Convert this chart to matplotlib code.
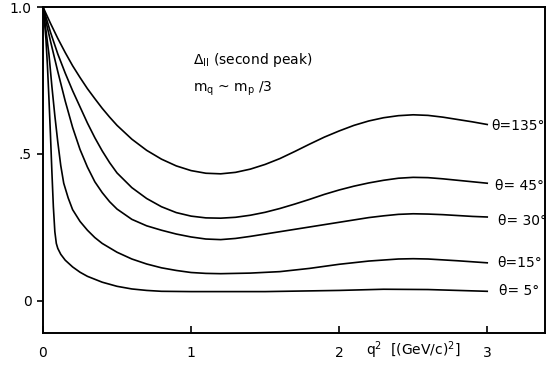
import matplotlib
matplotlib.use("Agg")
import matplotlib.pyplot as plt

# q^2 in (GeV/c)^2 and the ratio, read per scattering angle
q2_135 = [0, 0.05, 0.1, 0.15, 0.2, 0.25, 0.3, 0.35, 0.4, 0.45, 0.5, 0.6, 0.7, 0.8, 0.9, 1.0,
          1.1, 1.2, 1.3, 1.4, 1.5, 1.6, 1.7, 1.8, 1.9, 2.0, 2.1, 2.2, 2.3, 2.4, 2.5, 2.6,
          2.7, 2.8, 2.9, 3.0]
r_135 = [1.0, 0.945, 0.893, 0.845, 0.80, 0.76, 0.722, 0.688, 0.655, 0.625, 0.597, 0.55, 0.512,
         0.482, 0.459, 0.443, 0.434, 0.432, 0.437, 0.448, 0.464, 0.484, 0.508, 0.533, 0.557,
         0.578, 0.597, 0.612, 0.623, 0.630, 0.633, 0.631, 0.625, 0.617, 0.609, 0.60]

q2_45 = [0, 0.05, 0.1, 0.15, 0.2, 0.25, 0.3, 0.35, 0.4, 0.45, 0.5, 0.6, 0.7, 0.8, 0.9, 1.0,
         1.1, 1.2, 1.3, 1.4, 1.5, 1.6, 1.7, 1.8, 1.9, 2.0, 2.1, 2.2, 2.3, 2.4, 2.5, 2.6,
         2.7, 2.8, 2.9, 3.0]
r_45 = [1.0, 0.915, 0.84, 0.775, 0.715, 0.66, 0.605, 0.555, 0.51, 0.47, 0.435, 0.385, 0.348,
        0.32, 0.30, 0.288, 0.282, 0.281, 0.284, 0.291, 0.301, 0.314, 0.329, 0.345, 0.362,
        0.377, 0.39, 0.401, 0.41, 0.417, 0.42, 0.419, 0.415, 0.41, 0.405, 0.40]

q2_30 = [0, 0.025, 0.05, 0.1, 0.15, 0.2, 0.25, 0.3, 0.35, 0.4, 0.45, 0.5, 0.6, 0.7, 0.8, 0.9,
         1.0, 1.1, 1.2, 1.3, 1.4, 1.5, 1.6, 1.7, 1.8, 1.9, 2.0, 2.1, 2.2, 2.3, 2.4, 2.5,
         2.6, 2.7, 2.8, 2.9, 3.0]
r_30 = [1.0, 0.94, 0.885, 0.78, 0.68, 0.59, 0.515, 0.455, 0.405, 0.368, 0.337, 0.312, 0.277,
        0.255, 0.24, 0.227, 0.217, 0.21, 0.208, 0.212, 0.219, 0.227, 0.235, 0.243, 0.251,
        0.259, 0.267, 0.275, 0.283, 0.289, 0.294, 0.296, 0.295, 0.293, 0.29, 0.287, 0.285]

q2_15 = [0, 0.02, 0.04, 0.06, 0.08, 0.1, 0.12, 0.14, 0.17, 0.2, 0.25, 0.3, 0.35, 0.4, 0.5,
         0.6, 0.7, 0.8, 0.9, 1.0, 1.1, 1.2, 1.4, 1.6, 1.8, 2.0, 2.2, 2.4, 2.5, 2.6, 2.8, 3.0]
r_15 = [1.0, 0.92, 0.84, 0.73, 0.63, 0.54, 0.46, 0.40, 0.35, 0.31, 0.27, 0.24, 0.215, 0.195,
        0.165, 0.142, 0.125, 0.112, 0.103, 0.096, 0.093, 0.092, 0.094, 0.099, 0.11, 0.124,
        0.135, 0.142, 0.143, 0.142, 0.136, 0.129]

q2_5 = [0, 0.01, 0.02, 0.03, 0.04, 0.05, 0.06, 0.07, 0.08, 0.09, 0.1, 0.12, 0.15, 0.2, 0.25,
        0.3, 0.4, 0.5, 0.6, 0.7, 0.8, 1.0, 1.5, 2.0, 2.3, 2.6, 3.0]
r_5 = [1.0, 0.95, 0.89, 0.80, 0.69, 0.57, 0.44, 0.32, 0.235, 0.195, 0.178, 0.158, 0.138,
       0.115, 0.097, 0.083, 0.063, 0.049, 0.04, 0.035, 0.032, 0.031, 0.031, 0.035, 0.039,
       0.038, 0.032]

curves = [
    (q2_135, r_135, "θ=135°", 3.03, 0.595),
    (q2_45, r_45, "θ= 45°", 3.05, 0.39),
    (q2_30, r_30, "θ= 30°", 3.07, 0.27),
    (q2_15, r_15, "θ=15°", 3.07, 0.13),
    (q2_5, r_5, "θ= 5°", 3.08, 0.034),
]

fig = plt.figure(figsize=(5.47, 3.71), dpi=100)
ax = fig.add_axes([0.0786, 0.1024, 0.9177, 0.8787])

for x, y, lab, lx, ly in curves:
    ax.plot(x, y, color="black", linewidth=1.2)
    ax.text(lx, ly, lab, fontsize=10, va="center", ha="left")

ax.set_xlim(0, 3.39)
ax.set_ylim(-0.11, 1.0)

ax.set_xticks([0, 1, 2, 3])
ax.set_xticklabels(["0", "1", "2", "3"])
ax.set_yticks([0, 0.5, 1.0])
ax.set_yticklabels(["0", ".5", "1.0"])
ax.tick_params(axis="x", direction="in", length=5, width=1.2, pad=9, labelsize=10)
ax.tick_params(axis="y", direction="out", length=4, width=1.2, pad=4, labelsize=10)

for s in ax.spines.values():
    s.set_linewidth(1.4)

ax.text(1.01, 0.82, r"$\Delta_{\mathrm{II}}$ (second peak)", fontsize=10,
        va="center", ha="left")
ax.text(1.01, 0.72, r"m$_{\mathrm{q}}$ ~ m$_{\mathrm{p}}$ /3", fontsize=10,
        va="center", ha="left")

# axis title sits beside the "2" tick label
ax.text(2.18, -0.17, r"q$^2$  [(GeV/c)$^2$]", fontsize=10, va="center", ha="left",
        clip_on=False)

fig.savefig("out.png", dpi=100)
